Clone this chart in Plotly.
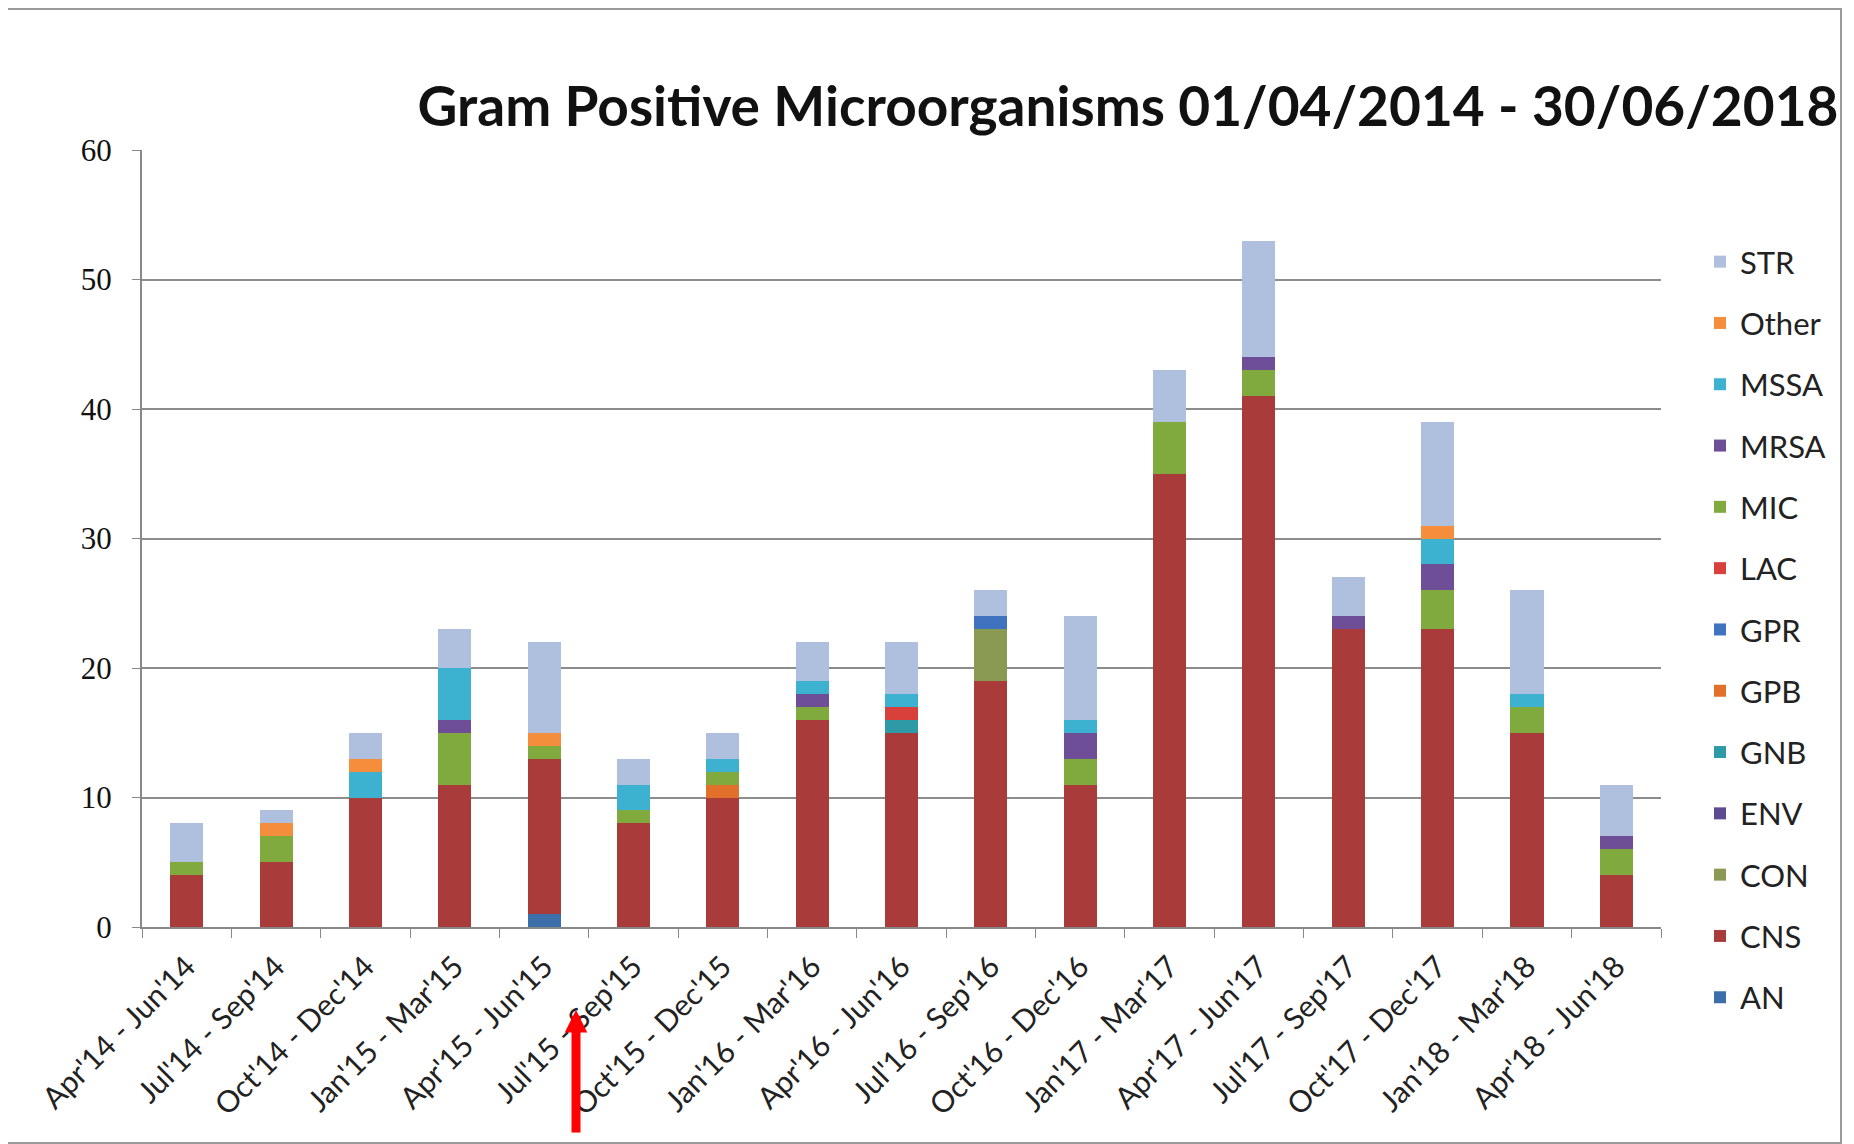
import plotly.graph_objects as go

categories = ["Apr'14 - Jun'14", "Jul'14 - Sep'14", "Oct'14 - Dec'14", "Jan'15 - Mar'15",
              "Apr'15 - Jun'15", "Jul'15 - Sep'15", "Oct'15 - Dec'15", "Jan'16 - Mar'16",
              "Apr'16 - Jun'16", "Jul'16 - Sep'16", "Oct'16 - Dec'16", "Jan'17 - Mar'17",
              "Apr'17 - Jun'17", "Jul'17 - Sep'17", "Oct'17 - Dec'17", "Jan'18 - Mar'18",
              "Apr'18 - Jun'18"]

AN    = [0, 0, 0, 0, 1, 0, 0, 0, 0, 0, 0, 0, 0, 0, 0, 0, 0]
CNS   = [4, 5, 10, 11, 12, 8, 10, 16, 15, 19, 11, 35, 41, 23, 23, 15, 4]
CON   = [0, 0, 0, 0, 0, 0, 0, 0, 0, 4, 0, 0, 0, 0, 0, 0, 0]
ENV   = [0, 0, 0, 0, 0, 0, 0, 0, 0, 0, 0, 0, 0, 0, 0, 0, 0]
GNB   = [0, 0, 0, 0, 0, 0, 0, 0, 1, 0, 0, 0, 0, 0, 0, 0, 0]
GPB   = [0, 0, 0, 0, 0, 0, 1, 0, 0, 0, 0, 0, 0, 0, 0, 0, 0]
GPR   = [0, 0, 0, 0, 0, 0, 0, 0, 0, 1, 0, 0, 0, 0, 0, 0, 0]
LAC   = [0, 0, 0, 0, 0, 0, 0, 0, 1, 0, 0, 0, 0, 0, 0, 0, 0]
MIC   = [1, 2, 0, 4, 1, 1, 1, 1, 0, 0, 2, 4, 2, 0, 3, 2, 2]
MRSA  = [0, 0, 0, 1, 0, 0, 0, 1, 0, 0, 2, 0, 1, 1, 2, 0, 1]
MSSA  = [0, 0, 2, 4, 0, 2, 1, 1, 1, 0, 1, 0, 0, 0, 2, 1, 0]
OTHER = [0, 1, 1, 0, 1, 0, 0, 0, 0, 0, 0, 0, 0, 0, 1, 0, 0]
STR   = [3, 1, 2, 3, 7, 2, 2, 3, 4, 2, 8, 4, 9, 3, 8, 8, 4]

series_names = ["AN", "CNS", "CON", "ENV", "GNB", "GPB", "GPR", "LAC", "MIC", "MRSA", "MSSA", "Other", "STR"]
series_values = [AN, CNS, CON, ENV, GNB, GPB, GPR, LAC, MIC, MRSA, MSSA, OTHER, STR]
series_colors = ["#3C6EAA", "#A93B3B", "#8A9A52", "#5C4A92", "#2E9AA6", "#E2702A", "#3F73BF",
                 "#D8413B", "#80AA3E", "#6F4E98", "#3DB2D0", "#F58E3C", "#AFC0DE"]

fig = go.Figure()
n = len(series_names)
for i, (name, vals, col) in enumerate(zip(series_names, series_values, series_colors)):
    fig.add_trace(go.Bar(x=categories, y=vals, name=name, marker_color=col,
                         marker_line_width=0, legendgroup=name, legendrank=100 + n - i))

OFF = 8  # body margin of the html page
W, H = 1854 - OFF, 1144 - OFF
L, T = 142 - OFF, 150 - OFF
PR, PB = 1661 - OFF, 927 - OFF
R, B = W - PR, H - PB
pw, ph = PR - L, PB - T

def px(xs):
    return (xs - OFF - L) / pw

def py(ys):
    return (PB - (ys - OFF)) / ph

fig.update_layout(
    width=W, height=H,
    barmode="stack", bargap=0.63,
    paper_bgcolor="white", plot_bgcolor="white",
    margin=dict(l=L, r=R, t=T, b=B, autoexpand=False),
    title=dict(text="<b>Gram Positive Microorganisms 01/04/2014 - 30/06/2018</b>",
               font=dict(family="Lato", size=55, color="#111111"),
               x=px(1128), xref="paper", xanchor="center",
               y=1 - (107 - OFF) / H, yanchor="middle"),
    legend=dict(traceorder="grouped", tracegroupgap=18, maxheight=1100,
                font=dict(family="Lato", size=31, color="#222222"),
                x=px(1700), xanchor="left", y=py(235), yanchor="top",
                bgcolor="rgba(0,0,0,0)", itemwidth=30),
    showlegend=True,
)

fig.update_xaxes(type="category", tickangle=-45, tickson="boundaries", ticks="outside",
                 ticklen=9, tickcolor="#888888", showline=True, linecolor="#888888", linewidth=2,
                 ticklabelstandoff=8,
                 tickfont=dict(family="Lato", size=30, color="#222222"), showgrid=False)
fig.update_yaxes(range=[0, 60], dtick=10, ticks="outside", ticklen=8, tickcolor="#888888",
                 showline=True, linecolor="#888888", linewidth=2, showgrid=True,
                 gridcolor="#8C8C8C", gridwidth=1.5, ticklabelstandoff=14,
                 tickfont=dict(family="Liberation Serif", size=31, color="#111111"),
                 zeroline=False)

# outer frame
fig.add_shape(type="rect", xref="paper", yref="paper",
              x0=px(7), x1=px(1841), y0=py(1143), y1=py(9),
              line=dict(color="#9A9A9A", width=2), fillcolor="rgba(0,0,0,0)", layer="below")

# red arrow annotation
fig.add_annotation(xref="paper", yref="paper", x=px(576), y=py(1010), ax=0, ay=124,
                   text="", showarrow=True, arrowcolor="#FF0000", arrowwidth=9,
                   arrowhead=2, arrowsize=0.5)

fig.write_html("out.html")
